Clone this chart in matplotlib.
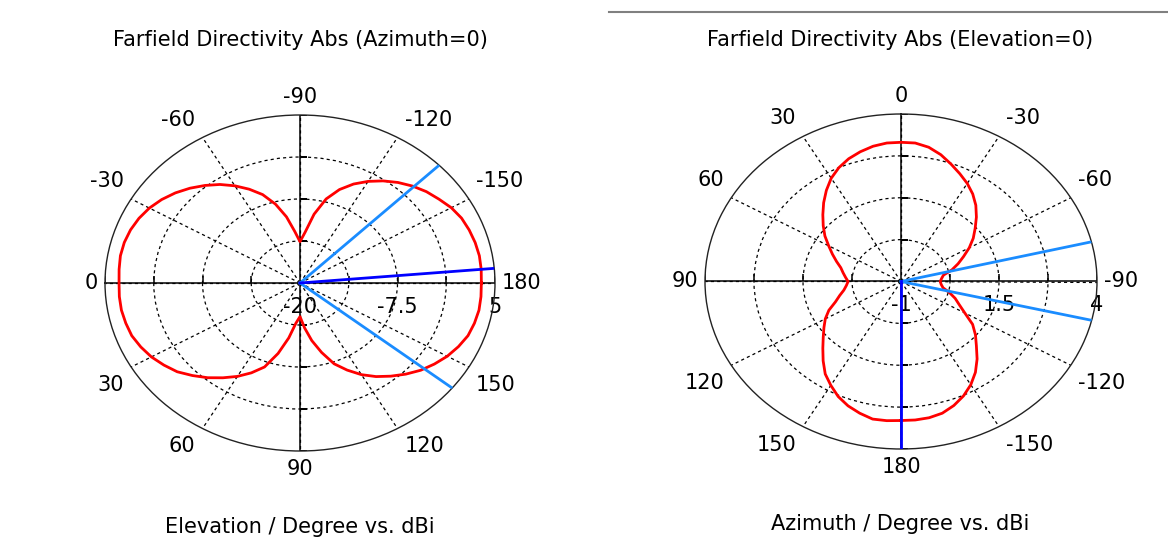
import matplotlib
matplotlib.use('Agg')
import matplotlib.pyplot as plt
import numpy as np
from matplotlib.lines import Line2D

# ---- data --------------------------------------------------------------

# cut angles in degrees, 5 deg step
cut_angles = list(range(-180, 181, 5))

# Elevation cut (Azimuth=0), directivity in dBi
elev_dbi = [3.25, 3.32, 3.35, 3.25, 3.08, 2.85, 2.40, 1.75, 1.15, 0.40,
            -0.47, -1.45, -2.54, -3.75, -5.2, -7.05, -9.6, -12.4, -13.85, -12.3,
            -10.0, -7.85, -6.0, -4.6, -3.3, -2.1, -1.05, -0.05, 0.86, 1.65,
            2.3, 2.78, 3.12, 3.32, 3.38, 3.28, 3.2, 3.25, 3.25, 3.12,
            2.95, 2.52, 2.0, 1.3, 0.55, -0.52, -1.6, -2.78, -3.95, -5.25,
            -6.7, -9.15, -11.7, -14.0, -15.0, -13.3, -11.3, -9.3, -7.2, -5.7,
            -4.25, -3.0, -1.9, -0.82, 0.2, 1.03, 1.8, 2.41, 2.92, 3.15,
            3.3, 3.29, 3.25]
elev_main = -175.0
elev_3db = [-135.5, 141.3]
elev_rticks = [-20, -13.75, -7.5, -1.25, 5]
elev_rlabels = ['-20', '', '-7.5', '', '5']

# Azimuth cut (Elevation=0), directivity in dBi
azim_dbi = [3.15, 3.15, 3.13, 3.07, 2.94, 2.77, 2.56, 2.31, 2.02, 1.72,
            1.48, 1.23, 0.88, 0.64, 0.47, 0.28, 0.09, 0.03, 0.0, 0.04,
            0.10, 0.345, 0.55, 0.76, 1.01, 1.25, 1.47, 1.72, 1.97, 2.19,
            2.38, 2.55, 2.73, 2.92, 3.07, 3.15, 3.155, 3.15, 3.10, 3.01,
            2.90, 2.75, 2.56, 2.32, 2.07, 1.82, 1.59, 1.37, 1.13, 0.93,
            0.75, 0.59, 0.50, 0.42, 0.35, 0.40, 0.48, 0.62, 0.78, 1.03,
            1.23, 1.40, 1.59, 1.82, 2.09, 2.37, 2.58, 2.79, 2.95, 3.07,
            3.17, 3.17, 3.15]
azim_main = 180.0
azim_3db = [-76.3, -103.4]
azim_rticks = [-1, 0.25, 1.5, 2.75, 4]
azim_rlabels = ['-1', '', '1.5', '', '4']

ang_ticks = [-150, -120, -90, -60, -30, 0, 30, 60, 90, 120, 150, 180]

FS = 15
RED = '#ff0000'
BLUE = '#0000ff'
LBLUE = '#1a8cff'


# ---- helpers -----------------------------------------------------------

# Elliptic polar axes in CST style: dashed grid, solid cross, labels outside
def polar_cut(fig, rect, offset, rticks, rlabels):
    ax = fig.add_axes(rect, projection='polar')
    ax.set_aspect('auto')
    ax.set_theta_offset(np.radians(offset))
    ax.set_theta_direction(1)
    rmin, rmax = rticks[0], rticks[-1]
    ax.set_xticks(np.radians(np.mod(ang_ticks, 360)))
    ax.set_xticklabels([])
    ax.set_xlim(0, 2 * np.pi)
    ax.set_ylim(rmin, rmax)
    ax.set_yticks(rticks[1:-1])
    ax.set_yticklabels([])
    ax.tick_params(length=0)
    ax.grid(True, ls=(0, (2.5, 2.5)), lw=0.9, c='k')
    ax.spines['polar'].set_color('#222222')
    ax.spines['polar'].set_linewidth(1.0)

    # solid cross through the origin, with small ticks at each ring
    for k in range(4):
        t = np.radians(k * 90 - offset)
        ax.plot([t, t], [rmin, rmax], c='k', lw=1.1, zorder=2)
        mk = 2 if k % 2 == 0 else 1
        ax.plot([t] * (len(rticks) - 1), rticks[1:], ls='none', marker=mk,
                ms=5, mew=1.1, c='k', zorder=2)

    # angle labels just outside the rim
    for a in ang_ticks:
        phi = np.radians(a + offset)
        c, s = np.cos(phi), np.sin(phi)
        ha = 'left' if c > 0.05 else ('right' if c < -0.05 else 'center')
        va = 'bottom' if s > 0.05 else ('top' if s < -0.05 else 'center')
        dx = 7 * np.sign(c) if abs(c) > 0.05 else 0
        dy = 8 * np.sign(s) if abs(s) > 0.05 else 0
        ax.annotate(str(a), (np.radians(a), rmax), xytext=(dx, dy),
                    textcoords='offset pixels', ha=ha, va=va, fontsize=FS,
                    annotation_clip=False)

    # radial labels under the right half of the horizontal axis
    t_right = np.radians(-offset)
    for r, lab in zip(rticks, rlabels):
        if lab:
            ax.annotate(lab, (t_right, r), xytext=(0, -24),
                        textcoords='offset pixels', ha='center', va='center',
                        fontsize=FS, annotation_clip=False, zorder=1)
    return ax


def draw_cut(ax, ang, dbi, main, beam, rticks):
    ax.plot(np.radians(ang), dbi, c=RED, lw=2.0, zorder=3)
    for b in beam:
        ax.plot([np.radians(b)] * 2, [rticks[0], rticks[-1]], c=LBLUE,
                lw=2.0, zorder=4)
    ax.plot([np.radians(main)] * 2, [rticks[0], rticks[-1]], c=BLUE,
            lw=2.0, zorder=5)
    ax.set_xlim(0, 2 * np.pi)
    ax.set_ylim(rticks[0], rticks[-1])


# ---- figure ------------------------------------------------------------

W, H = 1168, 546
fig = plt.figure(figsize=(W / 100, H / 100), dpi=100)

ax1 = polar_cut(fig, [105 / W, 1 - 451 / H, 390 / W, 336 / H], 180,
                elev_rticks, elev_rlabels)
draw_cut(ax1, cut_angles, elev_dbi, elev_main, elev_3db, elev_rticks)

ax2 = polar_cut(fig, [705 / W, 1 - 449 / H, 392 / W, 335 / H], 90,
                azim_rticks, azim_rlabels)
draw_cut(ax2, cut_angles, azim_dbi, azim_main, azim_3db, azim_rticks)

fig.text(300 / W, 1 - 40 / H, 'Farfield Directivity Abs (Azimuth=0)',
         ha='center', va='center', fontsize=FS)
fig.text(900 / W, 1 - 40 / H, 'Farfield Directivity Abs (Elevation=0)',
         ha='center', va='center', fontsize=FS)
fig.text(300 / W, 1 - 527 / H, 'Elevation / Degree vs. dBi',
         ha='center', va='center', fontsize=FS)
fig.text(900 / W, 1 - 524 / H, 'Azimuth / Degree vs. dBi',
         ha='center', va='center', fontsize=FS)

# separator along the top of the right panel
fig.add_artist(Line2D([609 / W, 1], [1 - 11.5 / H] * 2, c='#808080', lw=1.5))

fig.savefig('out.png', dpi=100)
